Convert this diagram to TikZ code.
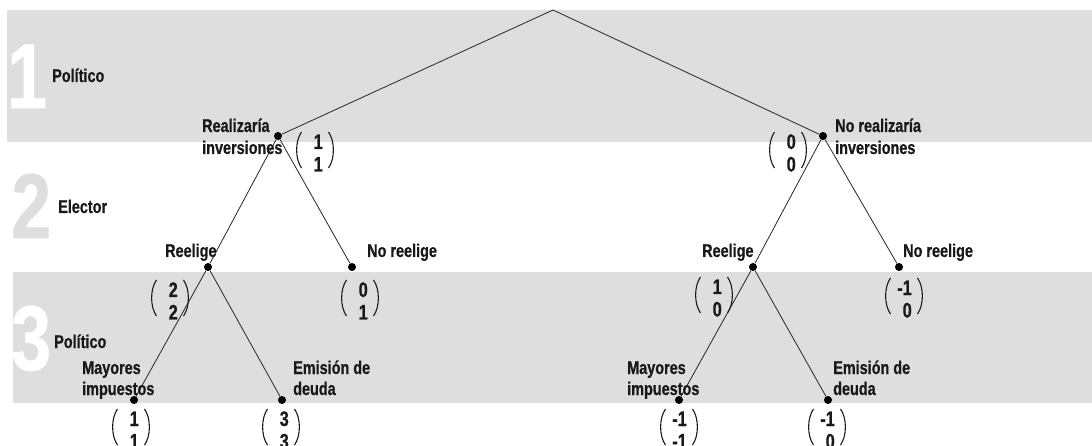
\documentclass[tikz,border=0pt]{standalone}
\usepackage{fontspec}
\setmainfont{Liberation Sans Bold}[FakeStretch=0.78,FakeBold=0.6]
\definecolor{band}{RGB}{222,222,222}
\definecolor{txt}{RGB}{25,25,25}
\definecolor{numgray}{RGB}{222,222,222}
\tikzset{
  lbl/.style={anchor=base west, inner sep=0pt, text=txt, font=\fontsize{18.5}{22}\selectfont},
  big/.style={anchor=base west, inner sep=0pt, font=\fontsize{92}{94}\selectfont},
  pay/.style={inner sep=0pt, text=txt, anchor=base east, font=\fontsize{21}{22.5}\selectfont},
  dotn/.style={circle, fill=black, inner sep=0pt, minimum size=8pt},
  br/.style={line width=0.8pt, draw=black!85},
  paren/.style={line width=1.1pt, draw=txt}
}
% name, x, y (centre of the brackets), upper value, lower value
\newcommand{\payoff}[5]{%
  \node[pay] (#1) at (#2+8,#3-1) {\begin{tabular}[t]{@{}r@{}}#4\\#5\end{tabular}};
  \draw[paren] (#2-13.5,#3-18) .. controls (#2-20,#3-9) and (#2-20,#3+9) .. (#2-13.5,#3+18);
  \draw[paren] (#2+13.5,#3-18) .. controls (#2+20,#3-9) and (#2+20,#3+9) .. (#2+13.5,#3+18);
}
\begin{document}
\begin{tikzpicture}[x=1pt,y=-1pt]
\useasboundingbox (0,0) rectangle (1092,446);
% bands
\fill[band] (7,10) rectangle (1092,142);
\fill[band] (13,272) rectangle (1092,403);
% big numerals
\node[big, text=white] (n1) at (7,108) {1};
\node[big, text=numgray] (n2) at (11,238) {2};
\node[big, text=white] (n3) at (11,370) {3};
% stage labels
\node[lbl] (s1) at (52,82) {Político};
\node[lbl] (s2) at (58,213) {Elector};
\node[lbl] (s3) at (54,348) {Político};
% tree nodes
\coordinate (root) at (553,10);
\node[dotn] (a) at (278,136) {};
\node[dotn] (b) at (823,136) {};
\node[dotn] (aa) at (208,267) {};
\node[dotn] (ab) at (352,267) {};
\node[dotn] (ba) at (753,267) {};
\node[dotn] (bb) at (899,267) {};
\node[dotn] (aaa) at (134,400) {};
\node[dotn] (aab) at (282,400) {};
\node[dotn] (baa) at (679,400) {};
\node[dotn] (bab) at (828,400) {};
% branches
\draw[br] (root) -- (a);
\draw[br] (root) -- (b);
\draw[br] (a) -- (aa);
\draw[br] (a) -- (ab);
\draw[br] (b) -- (ba);
\draw[br] (b) -- (bb);
\draw[br] (aa) -- (aaa);
\draw[br] (aa) -- (aab);
\draw[br] (ba) -- (baa);
\draw[br] (ba) -- (bab);
% labels
\node[lbl] (la1) at (202,132) {Realizaría};
\node[lbl] (la2) at (202,154) {inversiones};
\node[lbl] (lb1) at (835,132) {No realizaría};
\node[lbl] (lb2) at (835,154) {inversiones};
\node[lbl] (laa) at (165,257) {Reelige};
\node[lbl] (lab) at (367,257) {No reelige};
\node[lbl] (lba) at (702,257) {Reelige};
\node[lbl] (lbb) at (903,257) {No reelige};
\node[lbl] (laaa1) at (82,374) {Mayores};
\node[lbl] (laaa2) at (82,395) {impuestos};
\node[lbl] (laab1) at (293,374) {Emisión de};
\node[lbl] (laab2) at (293,395) {deuda};
\node[lbl] (lbaa1) at (627,374) {Mayores};
\node[lbl] (lbaa2) at (627,395) {impuestos};
\node[lbl] (lbab1) at (833,374) {Emisión de};
\node[lbl] (lbab2) at (833,395) {deuda};
% payoffs
\payoff{pa}{315}{150}{1}{1}
\payoff{pb}{788}{150}{0}{0}
\payoff{paa}{170}{298}{2}{2}
\payoff{pab}{360}{298}{0}{1}
\payoff{pba}{714}{295}{1}{0}
\payoff{pbb}{904}{296}{-1}{0}
\payoff{paaa}{131}{427}{1}{1}
\payoff{paab}{281}{427}{3}{3}
\payoff{pbaa}{679}{427}{-1}{-1}
\payoff{pbab}{827}{427}{-1}{0}
\end{tikzpicture}
\end{document}
